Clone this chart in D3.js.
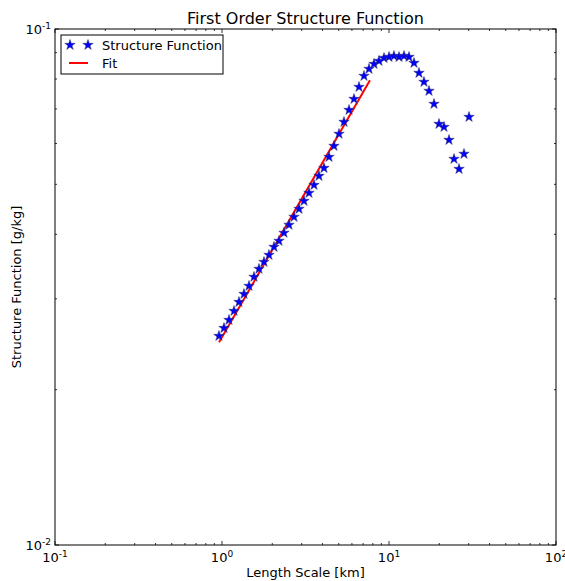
<!DOCTYPE html>
<html>
<head>
<meta charset="utf-8">
<script src="https://cdn.jsdelivr.net/npm/d3@7"></script>
<style>
  body { margin: 0; background: #fff; }
  text { font-family: "DejaVu Sans", sans-serif; fill: #000; }
</style>
</head>
<body>
<div id="chart"></div>
<script>
// length scale [km] of each point
var lengthScale = [0.959, 1.028, 1.101, 1.180, 1.264, 1.354, 1.451, 1.554, 1.665, 1.784,
  1.911, 2.048, 2.194, 2.351, 2.519, 2.699, 2.891, 3.097, 3.319, 3.556,
  3.809, 4.081, 4.372, 4.685, 5.019, 5.377, 5.761, 6.172, 6.613, 7.085,
  7.591, 8.133, 8.713, 9.335, 10.00, 10.71, 11.48, 12.30, 13.18, 14.12,
  15.12, 16.20, 17.36, 18.60, 19.93, 21.35, 22.87, 24.51, 26.26, 28.13, 30.14];

// structure function [g/kg]
var structFn = [0.02541, 0.02633, 0.02729, 0.02841, 0.02957, 0.03065, 0.03177, 0.03308, 0.03428, 0.03536,
  0.03648, 0.03781, 0.03884, 0.04026, 0.04172, 0.04323, 0.04480, 0.04642, 0.04810, 0.04985,
  0.05189, 0.05377, 0.05649, 0.05933, 0.06262, 0.06604, 0.06966, 0.07317, 0.07720, 0.08109,
  0.08367, 0.08555, 0.08670, 0.08787, 0.08826, 0.08865, 0.08826, 0.08865, 0.08826, 0.08593,
  0.08218, 0.07895, 0.07585, 0.07157, 0.06545, 0.06458, 0.06094, 0.05599, 0.05353, 0.05726, 0.06753];

// fitted power law, end points
var fitX = [0.96, 7.69];
var fitY = [0.0247, 0.0796];

var xTicks = [0.1, 1, 10, 100];
var xTickExp = ["-1", "0", "1", "2"];
var yTicks = [0.01, 0.1];
var yTickExp = ["-2", "-1"];

var margin = { top: 29, right: 9, bottom: 36, left: 55 };
var W = 565, H = 581;
var width = W - margin.left - margin.right;
var height = H - margin.top - margin.bottom;

var svg = d3.select("#chart").append("svg")
  .attr("width", W)
  .attr("height", H);

var g = svg.append("g")
  .attr("transform", "translate(" + margin.left + "," + margin.top + ")");

var x = d3.scaleLog().domain([0.1, 100]).range([0, width]);
var y = d3.scaleLog().domain([0.01, 0.1]).range([height, 0]);

// minor ticks 2..9 in each decade
var xMinor = [], yMinor = [];
[0.1, 1, 10].forEach(function (d) {
  for (var k = 2; k < 10; k++) xMinor.push(d * k);
});
for (var k = 2; k < 10; k++) yMinor.push(0.01 * k);

var tickColor = "#000";
function tickMarks(vals, len) {
  vals.forEach(function (v) {
    var px = x(v);
    g.append("line").attr("x1", px).attr("x2", px).attr("y1", height).attr("y2", height - len)
      .attr("stroke", tickColor).attr("stroke-width", 0.8);
    g.append("line").attr("x1", px).attr("x2", px).attr("y1", 0).attr("y2", len)
      .attr("stroke", tickColor).attr("stroke-width", 0.8);
  });
}
function tickMarksY(vals, len) {
  vals.forEach(function (v) {
    var py = y(v);
    g.append("line").attr("x1", 0).attr("x2", len).attr("y1", py).attr("y2", py)
      .attr("stroke", tickColor).attr("stroke-width", 0.8);
    g.append("line").attr("x1", width).attr("x2", width - len).attr("y1", py).attr("y2", py)
      .attr("stroke", tickColor).attr("stroke-width", 0.8);
  });
}
tickMarks(xTicks, 4);
tickMarks(xMinor, 2);
tickMarksY(yTicks, 4);
tickMarksY(yMinor, 2);

// tick labels
xTicks.forEach(function (v, i) {
  var t = g.append("text")
    .attr("x", x(v))
    .attr("y", height + 17)
    .attr("text-anchor", "middle")
    .style("font-size", "13px");
  t.append("tspan").text("10");
  t.append("tspan").attr("dy", -5).style("font-size", "9px").text(xTickExp[i]);
});
yTicks.forEach(function (v, i) {
  var t = g.append("text")
    .attr("x", -4)
    .attr("y", y(v) + 5)
    .attr("text-anchor", "end")
    .style("font-size", "13px");
  t.append("tspan").text("10");
  t.append("tspan").attr("dy", -5).style("font-size", "9px").text(yTickExp[i]);
});

// fit line
var line = d3.line()
  .x(function (d) { return x(d[0]); })
  .y(function (d) { return y(d[1]); });

g.append("path")
  .datum(d3.zip(fitX, fitY))
  .attr("d", line)
  .attr("fill", "none")
  .attr("stroke", "#ff0000")
  .attr("stroke-width", 2);

// stars
var star = d3.symbol().type(d3.symbolStar).size(34);
g.selectAll(".pt")
  .data(d3.zip(lengthScale, structFn))
  .enter()
  .append("path")
  .attr("class", "pt")
  .attr("d", star)
  .attr("transform", function (d) {
    return "translate(" + x(d[0]) + "," + y(d[1]) + ")";
  })
  .attr("fill", "#0000ff")
  .attr("stroke", "#333366")
  .attr("stroke-width", 0.5);

// frame
g.append("rect")
  .attr("width", width)
  .attr("height", height)
  .attr("fill", "none")
  .attr("stroke", "#000")
  .attr("stroke-width", 1);

// legend
var leg = svg.append("g").attr("transform", "translate(61,35)");
leg.append("rect")
  .attr("width", 162)
  .attr("height", 39)
  .attr("fill", "#fff")
  .attr("stroke", "#000")
  .attr("stroke-width", 1);
[9, 27].forEach(function (dx) {
  leg.append("path").attr("d", star)
    .attr("transform", "translate(" + dx + ",10)")
    .attr("fill", "#0000ff")
    .attr("stroke", "#333366")
    .attr("stroke-width", 0.5);
});
leg.append("text").attr("x", 41).attr("y", 15).style("font-size", "13px").text("Structure Function");
leg.append("line").attr("x1", 8).attr("x2", 27).attr("y1", 28).attr("y2", 28)
  .attr("stroke", "#ff0000").attr("stroke-width", 2);
leg.append("text").attr("x", 41).attr("y", 33).style("font-size", "13px").text("Fit");

// title and axis labels
svg.append("text")
  .attr("x", margin.left + width / 2)
  .attr("y", 24)
  .attr("text-anchor", "middle")
  .style("font-size", "16px")
  .text("First Order Structure Function");

svg.append("text")
  .attr("x", margin.left + width / 2)
  .attr("y", 577)
  .attr("text-anchor", "middle")
  .style("font-size", "13px")
  .text("Length Scale [km]");

svg.append("text")
  .attr("transform", "translate(21," + (margin.top + height / 2) + ") rotate(-90)")
  .attr("text-anchor", "middle")
  .style("font-size", "13px")
  .text("Structure Function [g/kg]");
</script>
</body>
</html>
